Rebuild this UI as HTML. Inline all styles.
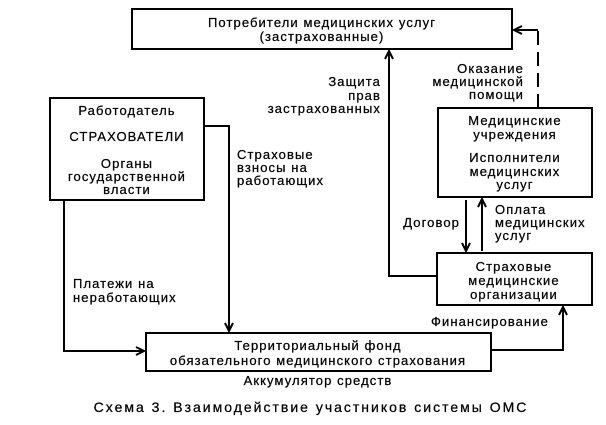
<!DOCTYPE html>
<html><head><meta charset="utf-8"><style>
html,body{margin:0;padding:0;background:#fff;}
svg{display:block;}
text{font-family:"Liberation Sans",sans-serif;font-size:13px;letter-spacing:1.1px;fill:#000;stroke:#000;stroke-width:0.25px;}
</style></head><body>
<svg width="606" height="425" viewBox="0 0 606 425" xmlns="http://www.w3.org/2000/svg">
<defs>
<marker id="a" markerWidth="10" markerHeight="10" refX="9" refY="5" orient="auto" markerUnits="userSpaceOnUse">
<path d="M1,1 L9,5 L1,9" fill="none" stroke="#000" stroke-width="2"/>
</marker>
</defs>
<g fill="none" stroke="#000" stroke-width="2">
<rect x="132" y="9" width="380" height="40"/>
<rect x="50" y="98" width="154" height="102"/>
<rect x="438" y="108" width="154" height="89"/>
<rect x="437" y="253" width="155" height="52"/>
<rect x="146" y="333" width="345" height="38"/>
<path d="M538,108 L538,30" stroke-dasharray="14,7"/>
<path d="M538,30 L514,30" marker-end="url(#a)"/>
<path d="M437,276 L389,276 L389,51" marker-end="url(#a)"/>
<path d="M204,126 L229,126 L229,331" marker-end="url(#a)"/>
<path d="M64,200 L64,351 L144,351" marker-end="url(#a)"/>
<path d="M491,350 L563,350 L563,307" marker-end="url(#a)"/>
<path d="M466,200 L466,251" marker-end="url(#a)"/>
<path d="M482,251 L482,199" marker-end="url(#a)"/>
</g>
<g text-anchor="middle">
<text x="322" y="27">Потребители медицинских услуг</text>
<text x="322" y="41">(застрахованные)</text>
<text x="127" y="115">Работодатель</text>
<text x="127" y="141">СТРАХОВАТЕЛИ</text>
<text x="127" y="168">Органы</text>
<text x="127" y="181">государственной</text>
<text x="127" y="194">власти</text>
<text x="515" y="125">Медицинские</text>
<text x="515" y="139">учреждения</text>
<text x="515" y="162">Исполнители</text>
<text x="515" y="176">медицинских</text>
<text x="515" y="189">услуг</text>
<text x="514" y="271">Страховые</text>
<text x="514" y="285">медицинские</text>
<text x="514" y="299">организации</text>
<text x="318" y="350">Территориальный фонд</text>
<text x="318" y="365">обязательного медицинского страхования</text>
<text x="318" y="385">Аккумулятор средств</text>
<text x="311" y="412" style="font-size:14px;letter-spacing:2px">Схема 3. Взаимодействие участников системы ОМС</text>
</g>
<g text-anchor="end">
<text x="381" y="86">Защита</text>
<text x="381" y="100">прав</text>
<text x="381" y="113">застрахованных</text>
<text x="524" y="73">Оказание</text>
<text x="524" y="86">медицинской</text>
<text x="524" y="99">помощи</text>
<text x="460" y="227">Договор</text>
<text x="549" y="326">Финансирование</text>
</g>
<text x="237" y="159">Страховые</text>
<text x="237" y="172">взносы на</text>
<text x="237" y="185">работающих</text>
<text x="73" y="288">Платежи на</text>
<text x="73" y="302">неработающих</text>
<text x="495" y="214">Оплата</text>
<text x="495" y="227">медицинских</text>
<text x="495" y="240">услуг</text>
</svg>
</body></html>
